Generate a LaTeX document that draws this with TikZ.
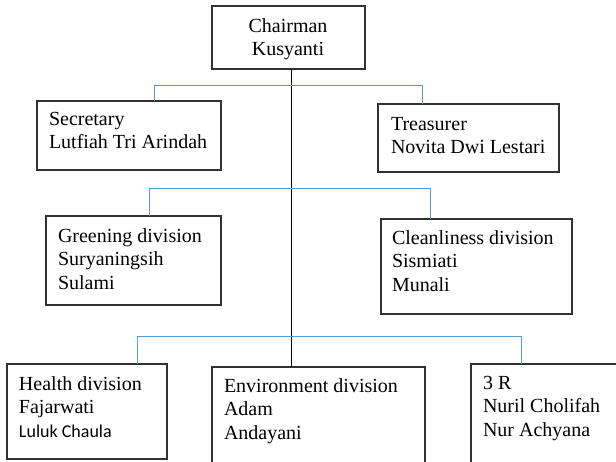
\documentclass[tikz,border=0pt]{standalone}
\usepackage{fontspec}
\setmainfont{Liberation Serif}
\newfontfamily\calib{Carlito}
\definecolor{linkblue}{RGB}{91,155,213}
\definecolor{boxline}{RGB}{50,50,50}
\newcommand{\firstl}{\rule{0pt}{15pt}}
\begin{document}
\begin{tikzpicture}[x=1pt,y=-1pt,
  box/.style={draw=boxline,line width=1.2pt,inner sep=0pt,outer sep=0pt,anchor=north west,fill=white},
  txt/.style={anchor=north west,inner sep=0pt,outer sep=0pt,align=left,font=\fontsize{20}{23.5}\selectfont},
  ctxt/.style={anchor=north,inner sep=0pt,outer sep=0pt,align=center,font=\fontsize{20}{23}\selectfont},
  blueline/.style={draw=linkblue,line width=1pt},
  trunk/.style={draw=black,line width=1pt}]
\useasboundingbox (0,0) rectangle (616,461);
\clip (0,0) rectangle (616,461);
\fill[white] (0,0) rectangle (616,461);
% boxes
\node[box,minimum width=153pt,minimum height=63pt] (chair) at (212,6) {};
\node[box,minimum width=184pt,minimum height=69pt] (sec) at (37,101) {};
\node[box,minimum width=181pt,minimum height=68pt] (treas) at (378,104) {};
\node[box,minimum width=175pt,minimum height=89pt] (green) at (46,216) {};
\node[box,minimum width=191pt,minimum height=95pt] (clean) at (381,219) {};
\node[box,minimum width=160pt,minimum height=95pt] (health) at (7,364) {};
\node[box,minimum width=213pt,minimum height=120pt] (env) at (212,367) {};
\node[box,minimum width=200pt,minimum height=120pt] (rrr) at (471,364) {};
% texts
\node[ctxt] (chairT) at (288,17) {\firstl Chairman\\Kusyanti};
\node[txt] (secT) at (49,110) {\firstl Secretary\\Lutfiah Tri Arindah};
\node[txt] (treasT) at (391,115) {\firstl Treasurer\\Novita Dwi Lestari};
\node[txt] (greenT) at (58,227) {\firstl Greening division\\Suryaningsih\\Sulami};
\node[txt] (cleanT) at (392,229) {\firstl Cleanliness division\\Sismiati\\Munali};
\node[txt] (healthT) at (19,375) {\firstl Health division\\Fajarwati\\{\calib\fontsize{18}{23.5}\selectfont Luluk Chaula}};
\node[txt] (envT) at (224,377) {\firstl Environment division\\Adam\\Andayani};
\node[txt] (rrrT) at (483,374) {\firstl 3 R\\Nuril Cholifah\\Nur Achyana};
% junctions
\coordinate (v) at (291,0);
\coordinate (a1) at (154,85);
\coordinate (a2) at (422,85);
\coordinate (b1) at (149,188);
\coordinate (b2) at (430,188);
\coordinate (c1) at (137,336);
\coordinate (c2) at (521,336);
% connectors
\draw[trunk] (v |- chair.south) -- (v |- env.north);
\draw[blueline] (a1 |- sec.north) -- (a1) -- (a2) -- (a2 |- treas.north);
\draw[blueline] (b1 |- green.north) -- (b1) -- (b2) -- (b2 |- clean.north);
\draw[blueline] (c1 |- health.north) -- (c1) -- (c2) -- (c2 |- rrr.north);
\end{tikzpicture}
\end{document}
